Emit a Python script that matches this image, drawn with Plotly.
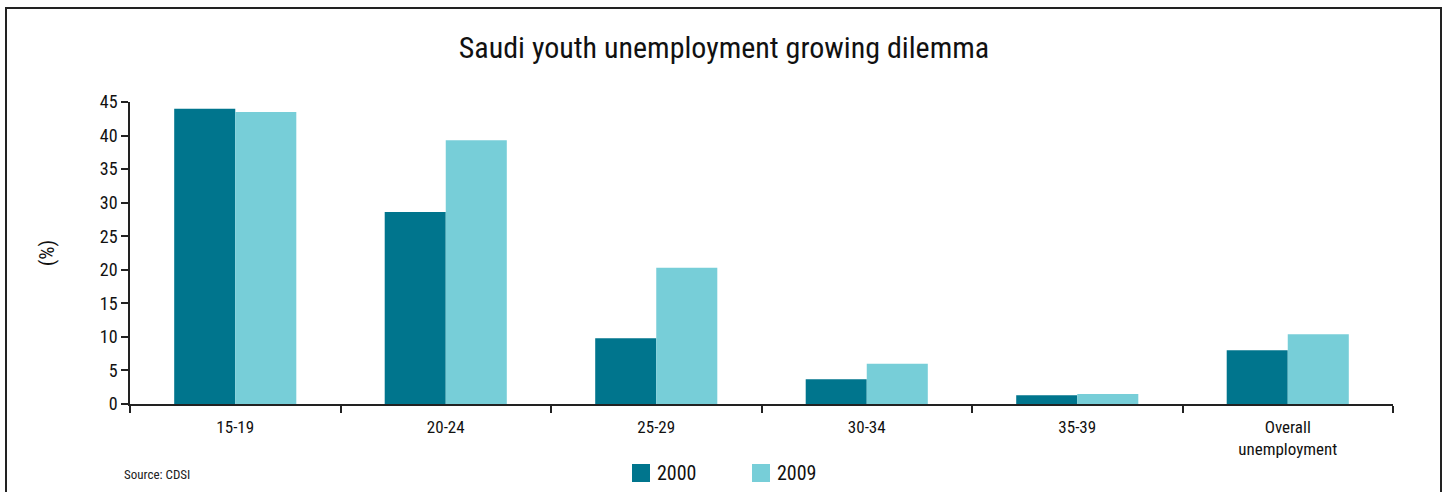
import plotly.graph_objects as go

categories = ["15-19", "20-24", "25-29", "30-34", "35-39", "Overall<br>unemployment"]
values_2000 = [44.0, 28.6, 9.8, 3.7, 1.3, 8.0]
values_2009 = [43.5, 39.3, 20.3, 6.0, 1.5, 10.4]
y_ticks = [0, 5, 10, 15, 20, 25, 30, 35, 40, 45]
series_names = ["2000", "2009"]
series_colors = ["#00758D", "#77CED8"]

FONT = "Liberation Sans Narrow, Roboto Condensed, Arial Narrow, Liberation Sans, sans-serif"
W, H = 1448, 492
L, R, T, B = 130, 55, 102, 88
PW, PH = W - L - R, H - T - B

def px_x(x):
    return (x - L) / PW

def px_y(y):
    return (H - B - y) / PH

fig = go.Figure()
fig.add_trace(go.Bar(x=categories, y=values_2000, name=series_names[0],
                     marker=dict(color=series_colors[0], line=dict(width=0))))
fig.add_trace(go.Bar(x=categories, y=values_2009, name=series_names[1],
                     marker=dict(color=series_colors[1], line=dict(width=0))))

fig.update_layout(
    width=W, height=H,
    margin=dict(l=L, r=R, t=T, b=B, autoexpand=False),
    paper_bgcolor="white", plot_bgcolor="white",
    barmode="group", bargap=0.42, bargroupgap=0,
    font=dict(family=FONT, size=16, color="#222222"),
    title=dict(text="Saudi youth unemployment growing dilemma", x=0.5, xref="container", xanchor="center",
               y=1 - 47 / H, yanchor="middle", font=dict(size=30, color="#111111", family=FONT)),
    showlegend=False,
    xaxis=dict(type="category", range=[-0.5, 5.5], showline=True, linecolor="#222222", linewidth=1.5,
               ticks="outside", tickson="boundaries", ticklen=7, tickcolor="#222222", tickwidth=1.5,
               showgrid=False, tickfont=dict(size=17, family=FONT, color="#111111"), automargin=False,
               ticklabelstandoff=7),
    yaxis=dict(range=[0, 45], tickvals=y_ticks, showline=True, linecolor="#222222", linewidth=1.5,
               ticks="outside", ticklen=7, tickcolor="#222222", tickwidth=1.5, showgrid=False,
               zeroline=False, tickfont=dict(size=18, family=FONT, color="#111111"), automargin=False,
               title=dict(text="(%)", font=dict(size=21, family=FONT, color="#111111"), standoff=40)),
)

# legend drawn manually in fixed positions
legend_x = [632, 752]
for name, color, lx in zip(series_names, series_colors, legend_x):
    fig.add_shape(type="rect", xref="paper", yref="paper",
                  x0=px_x(lx), x1=px_x(lx + 18), y0=px_y(482), y1=px_y(464),
                  line=dict(width=0), fillcolor=color)
    fig.add_annotation(text=name, xref="paper", yref="paper", x=px_x(lx + 23), y=px_y(473),
                       xanchor="left", yanchor="middle", showarrow=False,
                       font=dict(size=20, family=FONT, color="#111111"))

fig.add_annotation(text="Source: CDSI", xref="paper", yref="paper", x=px_x(122), y=px_y(474),
                   xanchor="left", yanchor="middle", showarrow=False,
                   font=dict(size=13, family=FONT, color="#222222"))

fig.add_shape(type="rect", xref="paper", yref="paper",
              x0=px_x(6), x1=px_x(1441), y0=px_y(520), y1=px_y(8),
              line=dict(color="#222222", width=2), fillcolor="rgba(0,0,0,0)", layer="below")

fig.write_html("out.html")
